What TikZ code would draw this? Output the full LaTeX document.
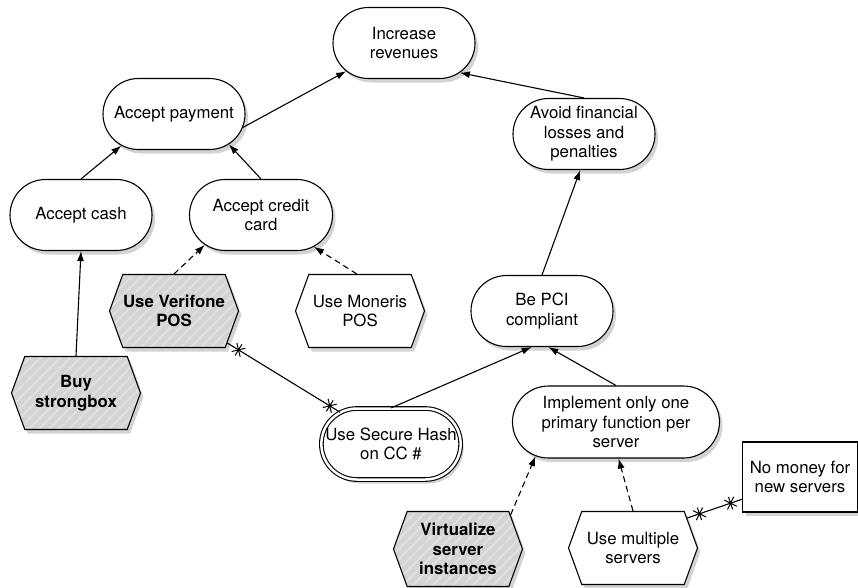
\documentclass[tikz,border=0pt]{standalone}
\usepackage{fontspec}
\setmainfont{TeX Gyre Heros}
\usetikzlibrary{shapes.misc,shapes.symbols,shadows,patterns,arrows.meta,decorations.markings}
\pgfdeclarepatternformonly{widestripes}{\pgfpointorigin}{\pgfpoint{10pt}{10pt}}{\pgfpoint{10pt}{10pt}}{%
  \pgfsetlinewidth{2.2pt}%
  \pgfpathmoveto{\pgfpoint{-1pt}{-1pt}}\pgfpathlineto{\pgfpoint{11pt}{11pt}}%
  \pgfpathmoveto{\pgfpoint{-1pt}{9pt}}\pgfpathlineto{\pgfpoint{1pt}{11pt}}%
  \pgfpathmoveto{\pgfpoint{9pt}{-1pt}}\pgfpathlineto{\pgfpoint{11pt}{1pt}}%
  \pgfusepath{stroke}}
\tikzset{
  base/.style={draw=black, line width=1.1pt, fill=white, align=center, inner sep=0pt,
    font=\fontsize{16.8}{19.5}\selectfont,
    drop shadow={shadow xshift=3pt, shadow yshift=-4pt, opacity=0.35}},
  goal/.style={base, rounded rectangle, minimum width=#1, minimum height=71pt},
  goal/.default=142pt,
  task/.style={base, signal, signal to=west and east, signal pointer angle=140,
    minimum width=129pt, minimum height=73pt},
  hatched/.style={fill=none, preaction={fill=gray!34}, preaction={pattern=widestripes, pattern color=gray!24},
    font=\fontsize{16.8}{19.5}\selectfont\bfseries},
  softgoal/.style={base, rectangle, minimum width=115pt, minimum height=70pt},
  contrib/.style={line width=1.1pt, -{Latex[length=10pt,width=7pt]}},
  means/.style={contrib, dash pattern=on 6pt off 4pt},
  xmark/.style={draw, line width=1pt},
  conflict/.style={line width=1.1pt, postaction={decorate, decoration={markings,
    mark=at position 13pt with {\draw[xmark] (-5pt,-5pt)--(5pt,5pt) (-5pt,5pt)--(5pt,-5pt) (0,-6.5pt)--(0,6.5pt);},
    mark=at position -12pt with {\draw[xmark] (-5pt,-5pt)--(5pt,5pt) (-5pt,5pt)--(5pt,-5pt) (0,-6.5pt)--(0,6.5pt);}}}}
}
\begin{document}
\begin{tikzpicture}[x=1pt,y=-1pt]
\useasboundingbox (0,0) rectangle (858,587);
% goals
\node[goal] (rev) at (404,43) {Increase\\revenues};
\node[goal] (pay) at (174,114) {Accept payment};
\node[goal] (avoid) at (584,134) {Avoid financial\\losses and\\penalties};
\node[goal] (cash) at (81,215) {Accept cash};
\node[goal=143pt] (cc) at (261,215) {Accept credit\\card};
\node[goal] (pci) at (542,311) {Be PCI\\compliant};
\node[goal=139pt, double=white, double distance=2.5pt] (hash) at (391,444) {Use Secure Hash\\on CC \#};
\node[goal=207pt, minimum height=72pt] (impl) at (616,422) {Implement only one\\primary function per\\server};
% tasks
\node[task, hatched] (verif) at (174,311) {Use Verifone\\POS};
\node[task] (mon) at (360,311) {Use Moneris\\POS};
\node[task, hatched] (sb) at (76,393) {Buy\\strongbox};
\node[task, hatched, minimum height=75pt] (virt) at (458,549) {Virtualize\\server\\instances};
\node[task] (mult) at (633,548) {Use multiple\\servers};
% belief
\node[softgoal] (nm) at (800,477) {No money for\\new servers};
% connectors
\draw[contrib] (pay.-11) -- (rev.-154);
\draw[contrib] (avoid.north) -- (rev.-28);
\draw[contrib] (cash.north) -- (pay.-149);
\draw[contrib] (cc.north) -- (pay.-29);
\draw[means] (verif.north) -- (cc.-152);
\draw[means] (mon.95) -- (cc.-31);
\draw[contrib] (sb.north) -- (cash.south);
\draw[contrib] (pci.north) -- (avoid.-96);
\draw[contrib] (hash.north) -- (pci.-106);
\draw[contrib] (impl.north) -- (pci.-80);
\draw[means] (virt.33) -- (impl.-157);
\draw[means] (mult.north) -- (impl.-86);
\draw[conflict] (verif.-31) -- (hash.148);
\draw[conflict] (mult.29) -- (nm.-159);
\end{tikzpicture}
\end{document}
